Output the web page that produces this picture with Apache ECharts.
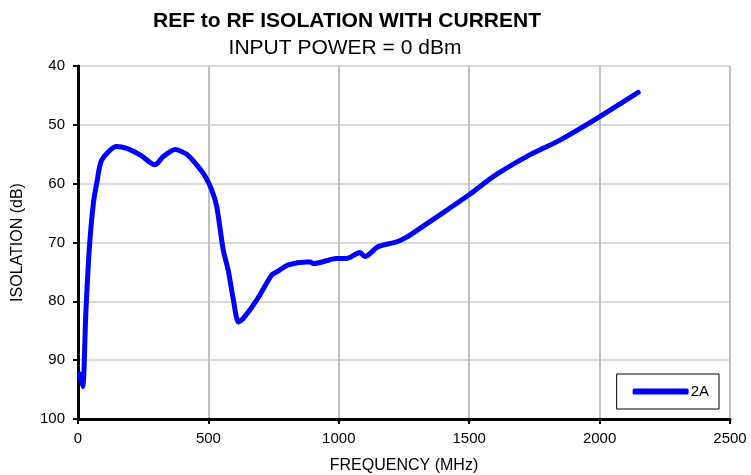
<!DOCTYPE html>
<html>
<head>
<meta charset="utf-8">
<script src="https://cdn.jsdelivr.net/npm/echarts@6/dist/echarts.min.js"></script>
<style>
html, body { margin: 0; padding: 0; background: #fff; }
#chart { width: 751px; height: 475px; }
</style>
</head>
<body>
<div id="chart"></div>
<script>
// frequency (MHz) and isolation (dB)
var freq = [5, 18, 30, 43, 59, 72, 91, 148, 187, 238, 295, 327, 372, 417, 455, 487, 513, 532, 557, 576, 596, 615, 634, 685, 743, 762, 806, 877, 890, 902, 928, 991, 1030, 1081, 1100, 1151, 1222, 1260, 1311, 1388, 1467, 1500, 1592, 1720, 1848, 2001, 2148];
var isolation = [92.3, 94.5, 82.0, 71.3, 63.3, 59.9, 56.0, 53.7, 54.0, 55.1, 56.8, 55.4, 54.2, 55.0, 56.8, 58.7, 61.1, 63.9, 71.3, 74.7, 79.8, 83.5, 82.9, 79.8, 75.5, 75.0, 73.8, 73.3, 73.3, 73.6, 73.4, 72.7, 72.7, 71.7, 72.4, 70.7, 69.9, 69.1, 67.6, 65.3, 62.9, 61.9, 58.8, 55.4, 52.6, 48.6, 44.5];
var xTicks = [0, 500, 1000, 1500, 2000, 2500];
var yTicks = [40, 50, 60, 70, 80, 90, 100];

var points = [];
for (var i = 0; i < freq.length; i++) {
    points.push([freq[i], isolation[i]]);
}

var chart = echarts.init(document.getElementById('chart'));
chart.setOption({
    animation: false,
    textStyle: { fontFamily: 'Liberation Sans, Arial, sans-serif' },
    title: [{
        text: 'REF to RF ISOLATION WITH CURRENT',
        left: 342, top: 6, textAlign: 'center',
        textStyle: { fontSize: 21, fontWeight: 'bold', color: '#000' }
    }, {
        text: 'INPUT POWER = 0 dBm',
        left: 340, top: 33, textAlign: 'center',
        textStyle: { fontSize: 21, fontWeight: 'normal', color: '#000' }
    }],
    grid: {
        left: 78, right: 21, top: 66, bottom: 56,
        outerBoundsMode: 'none', containLabel: false,
        show: true, borderColor: '#000', borderWidth: 1
    },
    xAxis: {
        type: 'value', min: xTicks[0], max: xTicks[xTicks.length - 1], interval: 500,
        name: 'FREQUENCY (MHz)', nameLocation: 'middle', nameGap: 39,
        nameTextStyle: { fontSize: 16, color: '#000' },
        axisLine: { show: true, onZero: false, lineStyle: { color: '#000', width: 3 } },
        axisTick: { show: true, length: 5, lineStyle: { color: '#000', width: 2 } },
        axisLabel: { fontSize: 15, color: '#000', margin: 12, formatter: function (v) { return String(v); } },
        splitLine: { show: true, lineStyle: { color: '#c0c0c0', width: 2 } }
    },
    yAxis: {
        type: 'value', inverse: true, min: yTicks[0], max: yTicks[yTicks.length - 1], interval: 10,
        name: 'ISOLATION (dB)', nameLocation: 'middle', nameGap: 52,
        nameTextStyle: { fontSize: 16, color: '#000' },
        axisLine: { show: true, onZero: false, lineStyle: { color: '#000', width: 3 } },
        axisTick: { show: true, length: 5, lineStyle: { color: '#000', width: 2 } },
        axisLabel: { fontSize: 15, color: '#000', margin: 13 },
        splitLine: { show: true, lineStyle: { color: '#d9d9d9', width: 2 } }
    },
    legend: {
        data: ['2A'],
        right: 32, bottom: 66,
        orient: 'vertical',
        backgroundColor: '#fff',
        borderColor: '#000', borderWidth: 1, borderRadius: 0,
        padding: [10, 10, 10, 16],
        itemWidth: 56, itemHeight: 6,
        icon: 'roundRect',
        textStyle: { fontSize: 15, color: '#000', padding: [0, 0, 0, -3] }
    },
    series: [{
        name: '2A',
        type: 'line',
        data: points,
        smooth: 0.25,
        showSymbol: false,
        symbol: 'none',
        lineStyle: { color: '#0000ff', width: 5, cap: 'round', join: 'round' },
        itemStyle: { color: '#0000ff' }
    }]
});
</script>
</body>
</html>
